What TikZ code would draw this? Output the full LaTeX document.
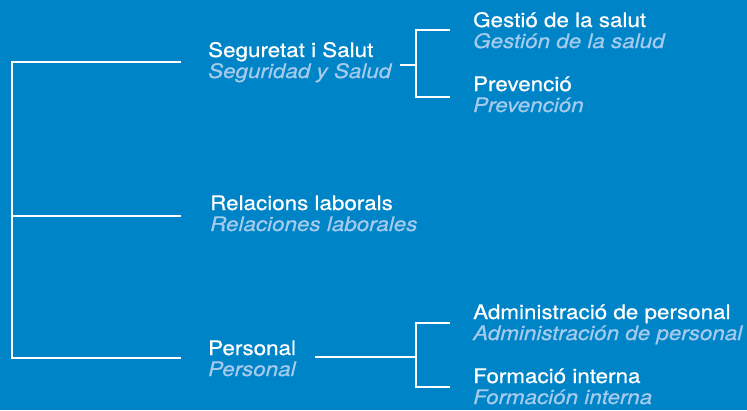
\documentclass[tikz,border=0pt]{standalone}
\usepackage{fontspec}
\usepackage{tikz}
\usetikzlibrary{positioning,calc}
\newfontfamily\heros{TeX Gyre Heros}[FakeStretch=1.12,FakeBold=0.6]
\definecolor{bgblue}{RGB}{0,132,200}
\definecolor{subblue}{RGB}{165,203,236}

\begin{document}
\begin{tikzpicture}[x=1pt,y=-1pt,
  head/.style={anchor=base west,inner sep=0pt,text=white,font=\heros\fontsize{20}{24}\selectfont},
  sub/.style={anchor=base west,inner sep=0pt,text=subblue,font=\heros\itshape\fontsize{20}{24}\selectfont},
  link/.style={draw=white,line width=2.6pt,line join=miter}]
  \fill[bgblue] (0,0) rectangle (747,410);
  % first level
  \node[head] (seg) at (208,57) {Seguretat i Salut};
  \node[sub] (segES) at ([yshift=-21pt]seg.base west) {Seguridad y Salud};
  \node[head] (rel) at (210,210) {Relacions laborals};
  \node[sub] (relES) at ([yshift=-21pt]rel.base west) {Relaciones laborales};
  \node[head] (per) at (208,355) {Personal};
  \node[sub] (perES) at ([yshift=-21pt]per.base west) {Personal};
  % second level
  \node[head] (ges) at (473,27) {Gestió de la salut};
  \node[sub] (gesES) at ([yshift=-21pt]ges.base west) {Gestión de la salud};
  \node[head] (pre) at (473,91) {Prevenció};
  \node[sub] (preES) at ([yshift=-21pt]pre.base west) {Prevención};
  \node[head] (adm) at (473,319) {Administració de personal};
  \node[sub] (admES) at ([yshift=-21pt]adm.base west) {Administración de personal};
  \node[head] (for) at (473,383) {Formació interna};
  \node[sub] (forES) at ([yshift=-21pt]for.base west) {Formación interna};
  % joints
  \coordinate (t1) at (12,62);
  \coordinate (t2) at (12,216);
  \coordinate (t3) at (12,358);
  \coordinate (s1) at ($(seg.base west)+(-27,5)$);
  \coordinate (s2) at ($(rel.base west)+(-29,6)$);
  \coordinate (s3) at ($(per.base west)+(-27,3)$);
  \coordinate (segout) at (400,65);
  \coordinate (b1) at (416,65);
  \coordinate (perout) at (315,357);
  \coordinate (b2) at (416,357);
  \coordinate (g1) at ($(ges.base west)+(-23,3)$);
  \coordinate (g2) at ($(pre.base west)+(-23,6)$);
  \coordinate (g3) at ($(adm.base west)+(-23,4)$);
  \coordinate (g4) at ($(for.base west)+(-23,4)$);
  % connectors
  \draw[link] (s1) -- (t1) -- (t3) -- (s3);
  \draw[link] (t2) -- (s2);
  \draw[link] (segout) -- (b1);
  \draw[link] (g1) -| (b1) |- (g2);
  \draw[link] (perout) -- (b2);
  \draw[link] (g3) -| (b2) |- (g4);
\end{tikzpicture}
\end{document}
